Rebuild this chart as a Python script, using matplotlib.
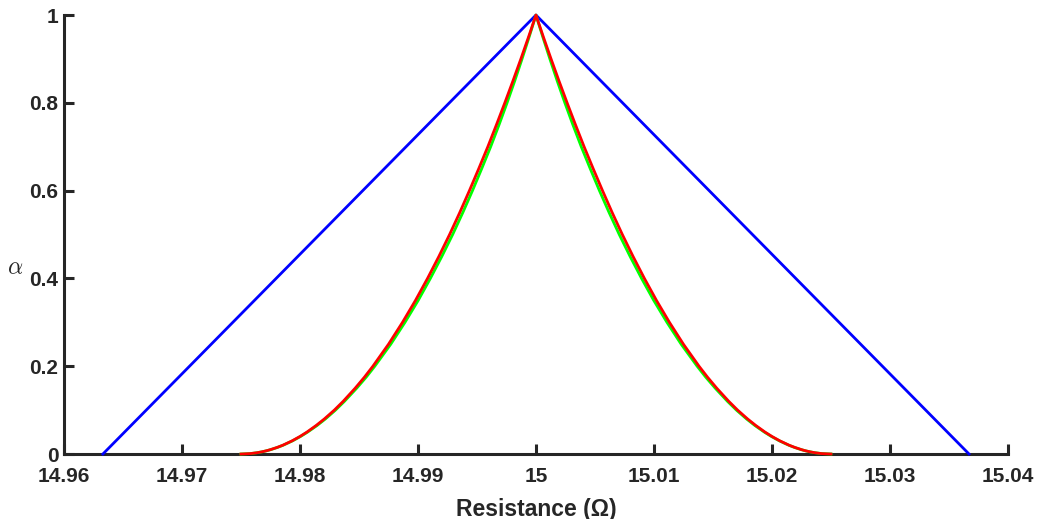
#!/usr/bin/env python3
"""Membership functions of the resistance (alpha-cuts), triangular vs. product-shaped."""

import numpy as np
import matplotlib
matplotlib.use("Agg")
import matplotlib.pyplot as plt

plt.rcParams['font.family'] = ['Liberation Sans', 'DejaVu Sans']
plt.rcParams['mathtext.fontset'] = 'cm'

# alpha levels and the left/right ends of each cut
alpha = [0, 0.001, 0.003, 0.005, 0.0075, 0.01, 0.015, 0.02, 0.03, 0.04, 0.05, 0.065,
         0.08, 0.1, 0.12, 0.15, 0.175, 0.2, 0.25, 0.3, 0.35, 0.4, 0.45, 0.5, 0.55,
         0.6, 0.65, 0.7, 0.75, 0.8, 0.85, 0.9, 0.95, 1.0]
red_left = [14.97500, 14.97579, 14.97637, 14.97677, 14.97717, 14.97750, 14.97806,
            14.97854, 14.97933, 14.98000, 14.98059, 14.98137, 14.98207, 14.98291,
            14.98366, 14.98468, 14.98546, 14.98618, 14.98750, 14.98869, 14.98979,
            14.99081, 14.99177, 14.99268, 14.99354, 14.99436, 14.99515, 14.99592,
            14.99665, 14.99736, 14.99805, 14.99872, 14.99937, 15.00000]
red_right = [15.02500, 15.02421, 15.02363, 15.02323, 15.02283, 15.02250, 15.02194,
             15.02146, 15.02067, 15.02000, 15.01941, 15.01863, 15.01793, 15.01709,
             15.01634, 15.01532, 15.01454, 15.01382, 15.01250, 15.01131, 15.01021,
             15.00919, 15.00823, 15.00732, 15.00646, 15.00564, 15.00485, 15.00408,
             15.00335, 15.00264, 15.00195, 15.00128, 15.00063, 15.00000]
green_left = [14.97500, 14.97580, 14.97638, 14.97678, 14.97719, 14.97752, 14.97809,
              14.97857, 14.97937, 14.98005, 14.98065, 14.98145, 14.98216, 14.98301,
              14.98377, 14.98481, 14.98561, 14.98634, 14.98769, 14.98890, 14.99002,
              14.99105, 14.99202, 14.99294, 14.99380, 14.99462, 14.99540, 14.99616,
              14.99687, 14.99755, 14.99820, 14.99882, 14.99942, 15.00000]
green_right = [15.02500, 15.02420, 15.02362, 15.02322, 15.02281, 15.02248, 15.02191,
               15.02143, 15.02063, 15.01995, 15.01935, 15.01855, 15.01784, 15.01699,
               15.01623, 15.01519, 15.01439, 15.01366, 15.01231, 15.01110, 15.00998,
               15.00895, 15.00798, 15.00706, 15.00620, 15.00538, 15.00460, 15.00384,
               15.00313, 15.00245, 15.00180, 15.00118, 15.00058, 15.00000]
blue_alpha = [0, 1, 0]
blue_x = [14.9633, 15.0, 15.0367]

xticks = [14.96, 14.97, 14.98, 14.99, 15.00, 15.01, 15.02, 15.03, 15.04]
xticklabels = ['14.96', '14.97', '14.98', '14.99', '15', '15.01', '15.02', '15.03', '15.04']
yticks = [0, 0.2, 0.4, 0.6, 0.8, 1.0]
yticklabels = ['0', '0.2', '0.4', '0.6', '0.8', '1']


def cut_curve(left, right, levels):
    # join the left branch (bottom -> top) with the right branch (top -> bottom)
    xs = list(left) + list(right[::-1])
    ys = list(levels) + list(levels[::-1])
    return xs, ys


fig = plt.figure(figsize=(10.4, 5.19), dpi=100)
ax = fig.add_axes([0.0615, 0.1252, 0.9077, 0.8458])

ink = '#262626'
ax.plot(blue_x, blue_alpha, color='#0000ff', lw=2, clip_on=False, zorder=3)
gx, gy = cut_curve(green_left, green_right, alpha)
ax.plot(gx, gy, color='#00ff00', lw=2, clip_on=False, zorder=4)
rx, ry = cut_curve(red_left, red_right, alpha)
ax.plot(rx, ry, color='#ff0000', lw=2, clip_on=False, zorder=5)

ax.set_xlim(14.96, 15.04)
ax.set_ylim(0, 1)
ax.set_xticks(xticks)
ax.set_xticklabels(xticklabels)
ax.set_yticks(yticks)
ax.set_yticklabels(yticklabels)

for s in ['top', 'right']:
    ax.spines[s].set_visible(False)
for s in ['left', 'bottom']:
    ax.spines[s].set_linewidth(2.2)
    ax.spines[s].set_color(ink)

ax.tick_params(direction='in', length=7, width=2.2, color=ink, labelcolor=ink,
               labelsize=15)
ax.tick_params(axis='x', pad=9)
ax.tick_params(axis='y', pad=4)
for lab in ax.get_xticklabels() + ax.get_yticklabels():
    lab.set_fontweight('bold')

ax.set_xlabel('Resistance (Ω)', fontsize=16.5, fontweight='bold', color=ink, labelpad=9)
ax.set_ylabel('$\\alpha$', fontsize=17, color=ink, rotation=0, ha='center', va='center')
ax.yaxis.set_label_coords(-0.052, 0.424)

fig.savefig('out.png', dpi=100)
